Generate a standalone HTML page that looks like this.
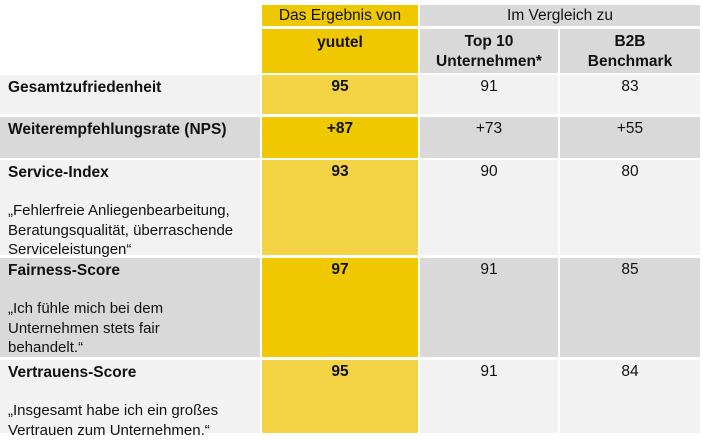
<!DOCTYPE html>
<html><head><meta charset="utf-8"><style>
body{margin:0;width:703px;height:439px;background:#fff;position:relative;font-family:"Liberation Sans",sans-serif;color:#111;overflow:hidden}
.c{position:absolute;box-sizing:border-box;font-size:15.5px;line-height:20px}
.n{text-align:center;padding-top:2px}
.b{font-weight:bold}
.l{padding:3px 0 0 8px}
.d{font-weight:normal;font-size:15px;line-height:19.5px;margin-top:18px}
</style></head><body>
<div class="c n" style="left:262px;top:5px;width:156px;height:21px;background:#f0c800;padding-top:1px">Das Ergebnis von</div>
<div class="c n" style="left:420px;top:5px;width:280px;height:21px;background:#d9d9d9;padding-top:1px">Im Vergleich zu</div>
<div class="c n b" style="left:262px;top:29px;width:156px;height:44px;background:#f0c800;padding-top:4px">yuutel</div>
<div class="c n b" style="left:420px;top:29px;width:138px;height:44px;background:#d9d9d9;padding-top:3px">Top 10<br>Unternehmen*</div>
<div class="c n b" style="left:560px;top:29px;width:140px;height:44px;background:#d9d9d9;padding-top:3px">B2B<br>Benchmark</div>

<div class="c l b" style="left:0;top:75px;width:260px;height:39px;background:#f2f2f2">Gesamtzufriedenheit</div>
<div class="c n b" style="left:262px;top:75px;width:156px;height:39px;background:#f4d445">95</div>
<div class="c n" style="left:420px;top:75px;width:138px;height:39px;background:#f2f2f2">91</div>
<div class="c n" style="left:560px;top:75px;width:140px;height:39px;background:#f2f2f2">83</div>

<div class="c l b" style="left:0;top:117px;width:260px;height:41px;background:#d9d9d9">Weiterempfehlungsrate (NPS)</div>
<div class="c n b" style="left:262px;top:117px;width:156px;height:41px;background:#f0c800">+87</div>
<div class="c n" style="left:420px;top:117px;width:138px;height:41px;background:#d9d9d9">+73</div>
<div class="c n" style="left:560px;top:117px;width:140px;height:41px;background:#d9d9d9">+55</div>

<div class="c l b" style="left:0;top:160px;width:260px;height:95px;background:#f2f2f2">Service-Index<div class="d">„Fehlerfreie Anliegenbearbeitung, Beratungsqualität, überraschende Serviceleistungen“</div></div>
<div class="c n b" style="left:262px;top:160px;width:156px;height:95px;background:#f4d445">93</div>
<div class="c n" style="left:420px;top:160px;width:138px;height:95px;background:#f2f2f2">90</div>
<div class="c n" style="left:560px;top:160px;width:140px;height:95px;background:#f2f2f2">80</div>

<div class="c l b" style="left:0;top:258px;width:260px;height:99px;background:#d9d9d9">Fairness-Score<div class="d">„Ich fühle mich bei dem<br>Unternehmen stets fair<br>behandelt.“</div></div>
<div class="c n b" style="left:262px;top:258px;width:156px;height:99px;background:#f0c800">97</div>
<div class="c n" style="left:420px;top:258px;width:138px;height:99px;background:#d9d9d9">91</div>
<div class="c n" style="left:560px;top:258px;width:140px;height:99px;background:#d9d9d9">85</div>

<div class="c l b" style="left:0;top:360px;width:260px;height:73px;background:#f2f2f2">Vertrauens-Score<div class="d">„Insgesamt habe ich ein großes<br>Vertrauen zum Unternehmen.“</div></div>
<div class="c n b" style="left:262px;top:360px;width:156px;height:73px;background:#f4d445">95</div>
<div class="c n" style="left:420px;top:360px;width:138px;height:73px;background:#f2f2f2">91</div>
<div class="c n" style="left:560px;top:360px;width:140px;height:73px;background:#f2f2f2">84</div>
</body></html>
